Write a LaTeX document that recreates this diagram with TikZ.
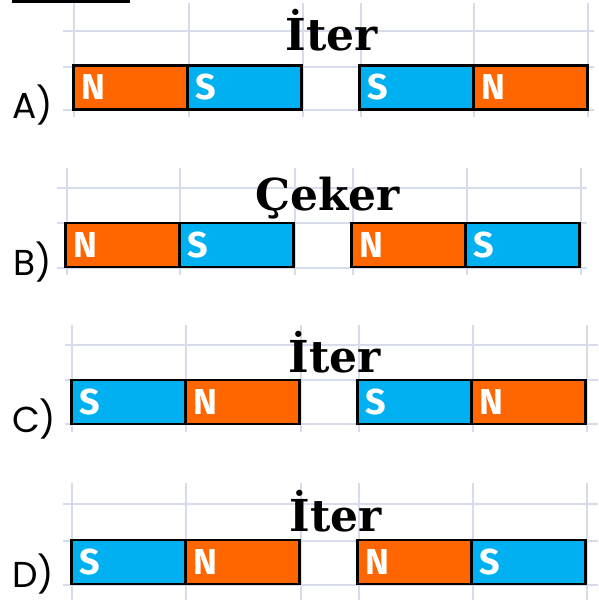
\documentclass[tikz,border=0pt]{standalone}
\usepackage{fontspec}
\usepackage{tikz}
\usetikzlibrary{positioning}
\newfontfamily\labelfont{Poppins}
\newfontfamily\polefont{Fira Sans}
\newfontfamily\verdictfont{DejaVu Serif}
\definecolor{northorange}{RGB}{255,102,0}
\definecolor{southblue}{RGB}{0,176,240}
\definecolor{gridgray}{RGB}{214,220,236}

\begin{document}
\begin{tikzpicture}[x=1pt, y=-1pt]
	% Define styles
	\tikzset{
		pole/.style={rectangle, draw, line width=2.5pt, outer sep=0pt, minimum width=114pt, minimum height=44pt, text width=98pt, inner xsep=8pt, align=left, text=white, font=\polefont\bfseries\fontsize{36}{36}\selectfont},
		npole/.style={pole, fill=northorange},
		spole/.style={pole, fill=southblue},
		verdict/.style={anchor=base, inner sep=0pt, font=\verdictfont\bfseries\fontsize{44}{44}\selectfont},
		optlabel/.style={anchor=base west, inner sep=0pt, font=\labelfont\fontsize{36}{36}\selectfont},
		gridline/.style={draw=gridgray, line width=1.5pt}
	}
	\useasboundingbox (0,0) rectangle (599,600);
	
	% Underline of the cut-off heading
	\draw[line width=3pt] (12,1.5) -- (130,1.5);
	
	% Grid lines
	\draw[gridline] (63,31) -- (594,31) (63,67) -- (594,67) (63,110) -- (594,110)
		(74,3) -- (74,117) (189,3) -- (189,117) (303,3) -- (303,117)
		(361,3) -- (361,117) (474,3) -- (474,117) (588,3) -- (588,117);
	\draw[gridline] (57,188) -- (587,188) (57,223) -- (587,223) (57,268) -- (587,268)
		(67,168) -- (67,275) (180,168) -- (180,275) (295,168) -- (295,275)
		(353,168) -- (353,275) (467,168) -- (467,275) (581,168) -- (581,275);
	\draw[gridline] (65,345) -- (598,345) (65,380) -- (598,380) (65,424) -- (598,424)
		(72,325) -- (72,432) (186,325) -- (186,432) (301,325) -- (301,432)
		(359,325) -- (359,432) (473,325) -- (473,432) (587,325) -- (587,432);
	\draw[gridline] (63,504) -- (598,504) (63,541) -- (598,541) (63,585) -- (598,585)
		(72,483) -- (72,600) (186,483) -- (186,600) (301,483) -- (301,600)
		(359,483) -- (359,600) (473,483) -- (473,600) (587,483) -- (587,600);
	
	% Row A
	\node[optlabel] (la) at (12,118) {A)};
	\node[verdict] (ta) at (332,50) {İter};
	\node[npole] (a1) at (130.5,87.5) {N};
	\node[spole, right=0pt of a1] (a2) {S};
	\node[spole, right=58pt of a2] (a3) {S};
	\node[npole, right=0pt of a3] (a4) {N};
	
	% Row B
	\node[optlabel] (lb) at (13,275) {B)};
	\node[verdict] (tb) at (327.5,210) {Çeker};
	\node[npole] (b1) at (122.5,245) {N};
	\node[spole, right=0pt of b1] (b2) {S};
	\node[npole, right=58pt of b2] (b3) {N};
	\node[spole, right=0pt of b3] (b4) {S};
	
	% Row C
	\node[optlabel] (lc) at (12,432) {C)};
	\node[verdict] (tc) at (335,372) {İter};
	\node[spole] (c1) at (128.5,402) {S};
	\node[npole, right=0pt of c1] (c2) {N};
	\node[spole, right=58pt of c2] (c3) {S};
	\node[npole, right=0pt of c3] (c4) {N};
	
	% Row D
	\node[optlabel] (ld) at (12,587) {D)};
	\node[verdict] (td) at (336,531) {İter};
	\node[spole] (d1) at (128.5,562) {S};
	\node[npole, right=0pt of d1] (d2) {N};
	\node[npole, right=58pt of d2] (d3) {N};
	\node[spole, right=0pt of d3] (d4) {S};
	
\end{tikzpicture}
\end{document}
